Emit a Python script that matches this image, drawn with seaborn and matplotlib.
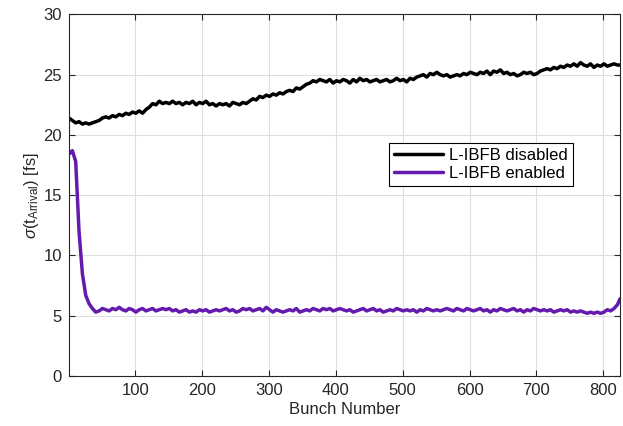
import numpy as np
import pandas as pd
import matplotlib
matplotlib.use("Agg")
import matplotlib.pyplot as plt
import seaborn as sns

# ---- data ----
bunch = list(range(1, 822, 5)) + [825]

disabled = [
    21.4, 21.2, 21.0, 21.1, 20.9, 21.0, 20.9, 21.0, 21.1, 21.2,
    21.4, 21.5, 21.4, 21.6, 21.5, 21.7, 21.6, 21.8, 21.7, 21.9,
    21.8, 22.0, 21.8, 22.1, 22.3, 22.6, 22.5, 22.8, 22.6, 22.7,
    22.6, 22.8, 22.6, 22.7, 22.5, 22.7, 22.6, 22.8, 22.5, 22.7,
    22.6, 22.8, 22.5, 22.6, 22.4, 22.6, 22.5, 22.6, 22.4, 22.7,
    22.6, 22.5, 22.7, 22.6, 22.8, 23.0, 22.9, 23.2, 23.1, 23.3,
    23.2, 23.4, 23.3, 23.5, 23.4, 23.6, 23.7, 23.6, 23.9, 23.8,
    24.0, 24.2, 24.3, 24.5, 24.4, 24.6, 24.5, 24.4, 24.6, 24.3,
    24.5, 24.4, 24.6, 24.5, 24.3, 24.6, 24.4, 24.7, 24.5, 24.6,
    24.4, 24.5, 24.6, 24.4, 24.5, 24.6, 24.4, 24.5, 24.7, 24.5,
    24.6, 24.4, 24.7, 24.6, 24.8, 24.9, 25.0, 24.8, 25.1, 25.0,
    25.2, 25.0, 24.9, 25.0, 24.8, 24.9, 25.0, 24.9, 25.1, 25.0,
    25.2, 25.1, 25.0, 25.2, 25.1, 25.3, 25.0, 25.3, 25.2, 25.4,
    25.1, 25.2, 25.0, 25.1, 24.9, 25.0, 25.2, 25.1, 25.2, 25.0,
    25.1, 25.3, 25.4, 25.5, 25.4, 25.6, 25.5, 25.7, 25.6, 25.8,
    25.7, 25.9, 25.7, 26.0, 25.8, 25.7, 25.9, 25.6, 25.8, 25.7,
    25.9, 25.7, 25.8, 25.9, 25.8, 25.8,
]

enabled = [
    18.4, 18.7, 17.8, 12.0, 8.5, 6.7, 6.0, 5.6, 5.3, 5.4,
    5.6, 5.5, 5.4, 5.6, 5.5, 5.7, 5.5, 5.4, 5.6, 5.5,
    5.3, 5.5, 5.6, 5.4, 5.5, 5.6, 5.4, 5.5, 5.6, 5.5,
    5.6, 5.4, 5.5, 5.3, 5.4, 5.5, 5.3, 5.4, 5.3, 5.5,
    5.4, 5.5, 5.3, 5.4, 5.5, 5.4, 5.5, 5.6, 5.4, 5.5,
    5.3, 5.4, 5.6, 5.5, 5.6, 5.4, 5.5, 5.6, 5.4, 5.7,
    5.5, 5.3, 5.5, 5.4, 5.3, 5.4, 5.5, 5.4, 5.6, 5.3,
    5.4, 5.5, 5.4, 5.6, 5.5, 5.4, 5.6, 5.5, 5.6, 5.4,
    5.5, 5.6, 5.5, 5.4, 5.5, 5.3, 5.4, 5.5, 5.6, 5.4,
    5.5, 5.6, 5.4, 5.5, 5.3, 5.4, 5.5, 5.4, 5.6, 5.5,
    5.4, 5.5, 5.4, 5.5, 5.3, 5.5, 5.4, 5.6, 5.5, 5.4,
    5.5, 5.4, 5.5, 5.6, 5.5, 5.4, 5.6, 5.5, 5.4, 5.6,
    5.5, 5.4, 5.5, 5.6, 5.4, 5.5, 5.3, 5.5, 5.4, 5.6,
    5.5, 5.4, 5.5, 5.6, 5.4, 5.5, 5.3, 5.5, 5.4, 5.6,
    5.5, 5.4, 5.5, 5.4, 5.5, 5.3, 5.4, 5.5, 5.4, 5.5,
    5.3, 5.4, 5.3, 5.4, 5.3, 5.2, 5.3, 5.2, 5.3, 5.2,
    5.3, 5.5, 5.4, 5.6, 5.9, 6.4,
]

labels = ["L-IBFB disabled", "L-IBFB enabled"]
x_ticks = [100, 200, 300, 400, 500, 600, 700, 800]
y_ticks = [0, 5, 10, 15, 20, 25, 30]

# ---- style ----
sns.set_theme(style="whitegrid")
plt.rcParams["font.family"] = ["Liberation Sans", "DejaVu Sans"]
plt.rcParams["mathtext.fontset"] = "custom"
plt.rcParams["mathtext.rm"] = "Liberation Sans"
plt.rcParams["mathtext.it"] = "Liberation Sans:italic"

text_col = "#262626"
fs = 12
fig = plt.figure(figsize=(6.23, 4.26), dpi=100)
ax = fig.add_axes([69 / 623, 1 - 376 / 426, (620 - 69) / 623, (376 - 14.4) / 426])

df1 = pd.DataFrame({"Bunch": bunch, "val": disabled})
df2 = pd.DataFrame({"Bunch": bunch, "val": enabled})
sns.lineplot(data=df1, x="Bunch", y="val", ax=ax, color="black", linewidth=2.5, label=labels[0])
sns.lineplot(data=df2, x="Bunch", y="val", ax=ax, color="#651AAE", linewidth=2.5, label=labels[1])

ax.set_xlim(1, 825)
ax.set_ylim(0, 30)
ax.set_xticks(x_ticks)
ax.set_yticks(y_ticks)
ax.set_xlabel("Bunch Number", fontsize=fs, color=text_col, labelpad=3)
ax.set_ylabel(r"$\sigma$(t$_{\mathrm{Arrival}}$) [fs]", fontsize=fs, color=text_col, labelpad=2)

ax.set_facecolor("white")
ax.grid(True, color="#dfdfdf", linewidth=0.8)
for s in ax.spines.values():
    s.set_visible(True)
    s.set_color(text_col)
    s.set_linewidth(0.8)
ax.tick_params(axis="both", which="both", direction="in", length=4, width=0.8,
               colors=text_col, labelsize=fs, top=True, right=True,
               bottom=True, left=True, pad=5)

leg = ax.legend(loc="upper right", bbox_to_anchor=(0.915, 0.644), borderaxespad=0,
                frameon=True, fancybox=False, edgecolor="black", framealpha=1,
                fontsize=fs, handlelength=2.9, handletextpad=0.4,
                borderpad=0.3, labelspacing=0.15)
leg.get_frame().set_linewidth(0.8)
for t in leg.get_texts():
    t.set_color("black")

fig.savefig("out.png", dpi=100)
